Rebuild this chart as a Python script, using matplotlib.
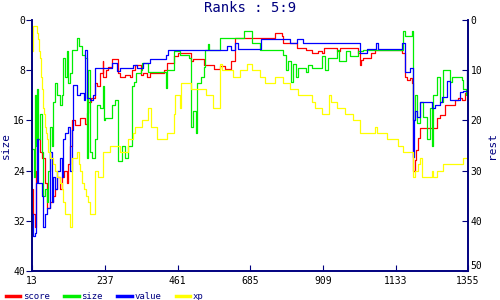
import numpy as np
import matplotlib
matplotlib.use("Agg")
import matplotlib.pyplot as plt

plt.rcParams['font.family'] = ['DejaVu Sans Mono']

NAVY = '#000080'

score_x = [13, 17, 23, 26, 29, 39, 45, 54, 60, 69, 79, 85, 91, 100, 106, 112, 122, 125, 131, 137,
           146, 162, 177, 183, 186, 196, 208, 214, 223, 230, 233, 242, 248, 260, 279, 285, 300, 316,
           322, 331, 347, 356, 368, 377, 418, 430, 449, 461, 501, 510, 541, 572, 593, 608, 624, 639,
           762, 784, 787, 830, 855, 876, 892, 907, 913, 953, 962, 984, 1015, 1024, 1027, 1033, 1055,
           1070, 1153, 1162, 1168, 1177, 1184, 1187, 1193, 1196, 1202, 1208, 1260, 1270, 1285, 1316,
           1325, 1338, 1347, 1355]
score_y = [27, 31, 33, 24, 19, 21, 22, 26, 30, 29, 28, 27, 25, 27, 25, 24, 26, 23, 20, 16,
           16.7, 15.6, 16.5, 14.8, 13, 12.5, 10, 10.5, 8.5, 6.5, 9, 8, 7.5, 6.2, 8.5, 9, 8.8, 9,
           8, 7.1, 8.8, 8.4, 9, 8.4, 7.9, 6.8, 5.8, 5.2, 6.6, 6.2, 7.1, 7.8, 7.4, 7.8, 6.6, 2.9,
           2.1, 2.6, 3.6, 4.4, 4.7, 5.2, 5.0, 5.2, 4.5, 5.0, 4.5, 4.5, 5.2, 7.1, 6.3, 6.0, 5.2,
           4.7, 5.3, 9.0, 9.6, 9.3, 10.0, 24, 22.3, 20.7, 18.8, 17.2, 15.6, 15.1, 13.5, 12.7,
           12.4, 12.7, 11.6, 11.9]

size_x = [13, 20, 23, 26, 29, 32, 39, 45, 48, 54, 60, 63, 69, 76, 79, 85, 91, 100, 106, 109,
          115, 122, 125, 131, 137, 153, 159, 168, 177, 183, 186, 193, 199, 208, 214, 223, 230, 236,
          239, 254, 260, 270, 279, 291, 300, 310, 322, 328, 334, 347, 353, 371, 418, 424, 430, 449,
          470, 495, 501, 510, 519, 522, 532, 541, 547, 556, 559, 593, 664, 691, 716, 787, 796, 802,
          811, 817, 826, 833, 855, 861, 876, 907, 916, 925, 953, 959, 978, 993, 1015, 1033, 1156,
          1162, 1184, 1187, 1193, 1199, 1208, 1217, 1230, 1239, 1245, 1248, 1260, 1270, 1279, 1294,
          1300, 1306, 1337, 1340, 1349, 1355]
size_y = [20.5, 25, 12, 20, 11, 19, 15, 21, 28, 27, 29, 24, 17, 20, 13, 10, 12, 13.5, 12, 6,
          9, 5, 10, 8.5, 4.7, 2.8, 4.2, 5.5, 6, 22, 8, 21, 22, 19, 13.5, 14, 10.5, 16,
          15.6, 15.6, 13.5, 12.7, 22.5, 20, 22, 20, 10.5, 9.8, 8.5, 7.9, 6.8, 8.2, 8.2, 10.8, 7.9, 5,
          5.5, 6, 17, 14.5, 18, 10, 9, 7.5, 4.7, 3.8, 4.7, 2.8, 1.8, 3.7, 4.7, 5.5, 8, 6.5,
          9.8, 7, 9, 7.6, 8.2, 7.2, 7.6, 5.8, 8, 6, 4.7, 6.5, 5, 5.8, 5, 4.8, 1.8,
          2.6, 1.8, 16, 12, 16.4, 13, 15.5, 19, 14, 20, 12, 9, 13, 7.9, 7.9,
          9.8, 9, 9.5, 11, 11.9, 11.6]

value_x = [13, 17, 23, 26, 29, 32, 45, 48, 54, 60, 69, 76, 79, 85, 91, 100, 106, 109, 115, 125,
           131, 137, 140, 153, 162, 174, 177, 183, 192, 202, 208, 260, 276, 285, 325, 337, 356, 377,
           424, 433, 614, 624, 639, 646, 717, 787, 808, 830, 848, 1024, 1045, 1073, 1079, 1153, 1162,
           1177, 1187, 1190, 1193, 1199, 1208, 1245, 1254, 1270, 1276, 1291, 1300, 1322, 1331, 1340,
           1352, 1355]
value_y = [31, 34.5, 34, 26, 19, 26, 28, 33, 31, 30, 21, 29, 25, 27, 24, 22, 25, 19, 18, 17,
           24, 17.5, 10.3, 12, 11.6, 12.7, 4.7, 12.5, 12.7, 11.9, 7.7, 6.9, 8.1, 7.7, 7.2, 7.7, 6.9, 6.2,
           5.5, 4.7, 4.2, 4.7, 3.7, 4.6, 3.0, 3.0, 3.6, 3.0, 3.7, 5.2, 4.6, 3.7, 4.6, 3.7, 8.2,
           7.6, 21.8, 16, 14.5, 15.5, 13, 14, 13.5, 13, 12.2, 9.7, 12.8, 12.7, 11.5, 11.3,
           7.9, 7.9]

xp_x = [13, 17, 29, 32, 35, 39, 42, 45, 48, 51, 54, 57, 60, 63, 69, 79, 85, 91, 100, 106,
        109, 116, 125, 131, 137, 153, 159, 162, 168, 174, 180, 186, 193, 202, 208, 217, 230, 233,
        254, 285, 300, 307, 325, 331, 353, 371, 378, 384, 399, 430, 449, 452, 470, 473, 495, 502,
        523, 548, 570, 593, 599, 614, 633, 654, 676, 691, 715, 730, 761, 786, 807, 832, 876, 885,
        907, 926, 932, 953, 977, 1002, 1023, 1069, 1075, 1106, 1140, 1155, 1186, 1192, 1201, 1208,
        1214, 1245, 1248, 1260, 1279, 1321, 1340, 1355]
xp_y = [5, 1, 2, 3, 5, 6, 9, 11, 14, 15, 17, 18, 19, 21, 22, 23, 24, 25, 26, 27,
        29, 31, 31, 33, 22, 21, 23, 24, 26, 27, 28, 29, 31, 31, 24, 25, 22, 21,
        20, 21, 21, 19, 18, 17, 16, 14, 17, 17, 19, 18, 15, 12, 14, 10, 10, 11,
        11, 12, 14, 7, 8, 8, 9, 8, 7, 8, 9, 10, 9, 10, 11, 12, 13, 14,
        15, 12, 13, 14, 15, 16, 18, 17, 18, 19, 20, 21, 25, 24, 23, 22,
        25, 24, 25, 24, 23, 23, 22, 22]

x_ticks = [13, 237, 461, 685, 909, 1133, 1355]
left_ticks = [0, 8, 16, 24, 32, 40]
right_ticks = [0, 10, 20, 30, 40, 50]

fig = plt.figure(figsize=(5, 3), dpi=100)
ax = fig.add_axes([0.064, 0.097, 0.872, 0.836])

ax.step(score_x, score_y, where='post', color='#ff0000', lw=0.9, label='score')
ax.step(size_x, size_y, where='post', color='#00ee00', lw=0.9, label='size')
ax.step(value_x, value_y, where='post', color='#0000ff', lw=0.9, label='value')
ax.step(xp_x, xp_y, where='post', color='#ffff00', lw=0.9, label='xp')

ax.set_xlim(13, 1355)
ax.set_ylim(40, 0)
ax.set_xticks(x_ticks)
ax.set_yticks(left_ticks)
ax.set_ylabel('size', color=NAVY, fontsize=8, labelpad=2)
ax.tick_params(axis='y', direction='out', length=4, color=NAVY, labelsize=7, pad=1)
ax.tick_params(axis='x', direction='in', length=4, color=NAVY, labelsize=7, pad=4)

ax2 = ax.twinx()
ax2.set_ylim(50, 0)
ax2.set_yticks(right_ticks)
ax2.set_ylabel('rest', color=NAVY, fontsize=8, labelpad=3)
ax2.tick_params(axis='y', direction='in', length=4, color=NAVY, labelsize=7, pad=2)
for lbl in ax2.get_yticklabels():
    lbl.set_verticalalignment('bottom' if lbl.get_text() == '50' else 'center_baseline')

for a in (ax, ax2):
    a.spines['top'].set_visible(False)
    for s in ('left', 'right', 'bottom'):
        a.spines[s].set_color(NAVY)
        a.spines[s].set_linewidth(1.2)

fig.suptitle('Ranks : 5:9', color=NAVY, fontsize=10, y=0.995)

leg = fig.legend(loc='lower left', bbox_to_anchor=(-0.005, -0.03), ncol=4, frameon=False,
                 fontsize=6.5, handlelength=1.6, handletextpad=0.3, columnspacing=1.6)
for line in leg.get_lines():
    line.set_linewidth(2.5)
for t in leg.get_texts():
    t.set_color(NAVY)

fig.savefig('out.png', dpi=100)
